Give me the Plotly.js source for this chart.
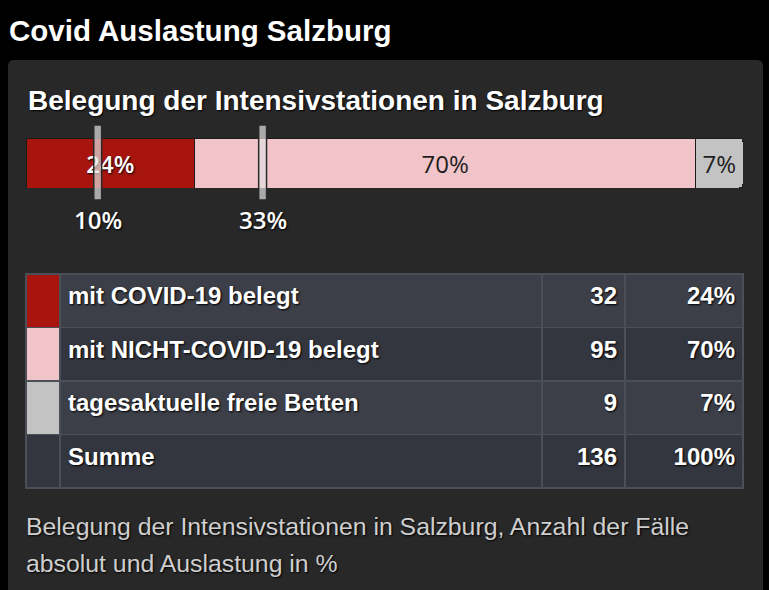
<!DOCTYPE html>
<html>
<head>
<meta charset="utf-8">
<script src="https://cdn.plot.ly/plotly-3.0.1.min.js"></script>
<style>
html,body{margin:0;padding:0;background:#000;}
#chart{width:769px;height:590px;}
</style>
</head>
<body>
<div id="chart"></div>
<script>
// ---- data ----
const categories = ['mit COVID-19 belegt', 'mit NICHT-COVID-19 belegt', 'tagesaktuelle freie Betten'];
const counts = [32, 95, 9];
const percentLabels = ['24%', '70%', '7%'];
const totalLabel = 'Summe';
const totalCount = 136;
const totalPercentLabel = '100%';
const markerValues = [10, 33];
const markerLabels = ['10%', '33%'];
const mainTitle = 'Covid Auslastung Salzburg';
const subTitle = 'Belegung der Intensivstationen in Salzburg';
const captionLines = ['Belegung der Intensivstationen in Salzburg, Anzahl der Fälle', 'absolut und Auslastung in %'];

// ---- styles ----
const W = 769, H = 590;
const colors = ['#a8150f', '#f0c4c8', '#c3c3c3'];
const barTextColors = ['#ffffff', '#1e1e1e', '#1e1e1e'];
const rowLight = '#3c3f48', rowDark = '#33363e';
const px = v => v / W;
const py = v => 1 - v / H;
const shadow = '1px 1px 2px #000';
// vertical centring trick: empty first line, then the real text at full size
const cellText = s => '<br><span style="font-size:24px">' + s + '</span>';

const sum = counts.reduce((a, b) => a + b, 0);
const traces = counts.map((c, i) => ({
  type: 'bar',
  orientation: 'h',
  y: [0],
  x: [c / sum * 100],
  width: [1],
  text: [percentLabels[i]],
  textposition: 'inside',
  insidetextanchor: 'middle',
  constraintext: 'none',
  textfont: {family: 'Open Sans', size: 24, color: barTextColors[i], weight: i === 0 ? 600 : 'normal', shadow: i === 0 ? shadow : 'none'},
  marker: {color: colors[i], line: {color: '#1b1b1b', width: 1}},
  hoverinfo: 'skip',
  xaxis: 'x', yaxis: 'y'
}));

// table: first data row used as header row
const rowsLabel = categories.concat([totalLabel]);
const rowsCount = counts.map(String).concat([String(totalCount)]);
const rowsPct = percentLabels.concat([totalPercentLabel]);
const swatch = colors.concat([rowDark]);
const rowBg = [rowLight, rowDark, rowLight, rowDark];

const tableFont = {family: 'Liberation Sans', size: 13, color: '#ffffff', weight: 'bold', shadow: shadow};
traces.push({
  type: 'table',
  domain: {x: [px(26), px(743)], y: [py(492), py(274)]},
  columnwidth: [34, 482, 83, 118],
  header: {
    values: [[''], [cellText(rowsLabel[0])], [cellText(rowsCount[0])], [cellText(rowsPct[0])]],
    height: 53.5,
    align: ['left', 'left', 'right', 'right'],
    fill: {color: [swatch[0], rowBg[0], rowBg[0], rowBg[0]]},
    line: {color: '#4b4f58', width: 1.5},
    font: tableFont
  },
  cells: {
    values: [['', '', ''], rowsLabel.slice(1).map(cellText), rowsCount.slice(1).map(cellText), rowsPct.slice(1).map(cellText)],
    height: 53.5,
    align: ['left', 'left', 'right', 'right'],
    fill: {color: [swatch.slice(1), rowBg.slice(1), rowBg.slice(1), rowBg.slice(1)]},
    line: {color: '#4b4f58', width: 1.5},
    font: tableFont
  }
});

const shapes = [
  {type: 'path', xref: 'paper', yref: 'paper', layer: 'below',
   path: `M ${px(8)},${py(66)} Q ${px(8)},${py(60)} ${px(14)},${py(60)} L ${px(757)},${py(60)} Q ${px(763)},${py(60)} ${px(763)},${py(66)} L ${px(763)},${py(600)} L ${px(8)},${py(600)} Z`,
   fillcolor: '#282828', line: {width: 0}}
];
markerValues.forEach(v => {
  shapes.push({type: 'rect', xref: 'x', yref: 'paper', x0: v - 0.55, x1: v + 0.55,
    y0: py(200), y1: py(125), fillcolor: 'rgba(225,225,225,0.7)', line: {color: '#2a2a2a', width: 1.5}});
});

const annotations = [
  {text: mainTitle, xref: 'paper', yref: 'paper', x: px(7), y: py(31), xanchor: 'left', yanchor: 'middle', showarrow: false,
   font: {family: 'Liberation Sans', size: 29.5, color: '#ffffff', weight: 'bold', shadow: shadow}},
  {text: subTitle, xref: 'paper', yref: 'paper', x: px(26), y: py(100), xanchor: 'left', yanchor: 'middle', showarrow: false,
   font: {family: 'Liberation Sans', size: 28, color: '#ffffff', weight: 'bold', shadow: shadow}}
];
markerValues.forEach((v, i) => {
  annotations.push({text: markerLabels[i], xref: 'x', yref: 'paper', x: v, y: py(219), xanchor: 'center', yanchor: 'middle', showarrow: false,
    font: {family: 'Open Sans', size: 24, color: '#ffffff', weight: 600, shadow: shadow}});
});
captionLines.forEach((t, i) => {
  annotations.push({text: t, xref: 'paper', yref: 'paper', x: px(24), y: py(526 + i * 37), xanchor: 'left', yanchor: 'middle', showarrow: false,
    font: {family: 'Liberation Sans', size: 24.8, color: '#cfcfcf', shadow: shadow}});
});

const layout = {
  width: W, height: H,
  margin: {l: 0, r: 0, t: 0, b: 0},
  paper_bgcolor: '#000000',
  plot_bgcolor: 'rgba(0,0,0,0)',
  barmode: 'stack',
  barcornerradius: 4,
  showlegend: false,
  xaxis: {domain: [px(26), px(743)], range: [0, 100], visible: false, fixedrange: true},
  yaxis: {domain: [py(188), py(138)], range: [-0.5, 0.5], visible: false, fixedrange: true},
  shapes: shapes,
  annotations: annotations
};

Plotly.newPlot('chart', traces, layout, {displayModeBar: false, staticPlot: true});
</script>
</body>
</html>
